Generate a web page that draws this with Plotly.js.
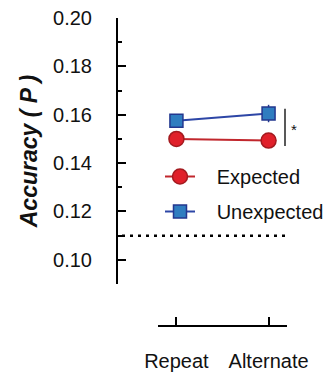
<!DOCTYPE html>
<html><head><meta charset="utf-8">
<script src="https://cdn.plot.ly/plotly-3.0.1.min.js"></script>
<style>html,body{margin:0;padding:0;background:#fff}#chart{width:325px;height:372px}</style>
</head><body><div id="chart"></div>
<script>
var conditions = ['Repeat', 'Alternate'];
var expected = [0.1500, 0.1493];
var expectedErr = [0.0020, 0.0020];
var unexpected = [0.1575, 0.1605];
var unexpectedErr = [0.0022, 0.0036];
var chanceLevel = 0.11;
var sigRange = [0.1471, 0.1625];
var sigLabel = '*';
var yTicks = [0.10, 0.12, 0.14, 0.16, 0.18, 0.20];

var W = 325, H = 372;
function px(x){return x / W;}
function py(y){return 1 - y / H;}
var FONT = 'Liberation Sans, Arial, sans-serif';

var traces = [
  {x: conditions, y: expected, name: '\u00a0\u00a0\u00a0Expected', type: 'scatter', mode: 'lines+markers',
   legendgroup: 'e',
   error_y: {type: 'data', array: expectedErr, visible: true, color: '#a31a1f', thickness: 1.5, width: 0},
   line: {color: '#c1272d', width: 2},
   marker: {symbol: 'circle', size: 15, color: '#e0202a', line: {color: '#a31a1f', width: 1.5}}},
  {x: conditions, y: unexpected, name: '\u00a0\u00a0\u00a0Unexpected', type: 'scatter', mode: 'lines+markers',
   legendgroup: 'u',
   error_y: {type: 'data', array: unexpectedErr, visible: true, color: '#23378f', thickness: 1.5, width: 0},
   line: {color: '#2d46a6', width: 2},
   marker: {symbol: 'square', size: 13, color: '#2f7dc0', line: {color: '#23378f', width: 1.5}}}
];

var layout = {
  width: W, height: H,
  margin: {l: 0, r: 0, t: 0, b: 0, autoexpand: false},
  paper_bgcolor: '#fff', plot_bgcolor: 'rgba(0,0,0,0)',
  font: {family: FONT, size: 20, color: '#111'},
  showlegend: true,
  legend: {x: px(160), y: py(157), xanchor: 'left', yanchor: 'top', bgcolor: 'rgba(0,0,0,0)',
           font: {family: FONT, size: 20, color: '#111'}, tracegroupgap: 6, traceorder: 'grouped'},
  xaxis: {type: 'category', categoryorder: 'array', categoryarray: conditions,
          range: [-0.2, 1.2], domain: [px(158), px(287)], anchor: 'free', position: py(326),
          showline: true, linewidth: 2, linecolor: '#000', ticks: 'inside', ticklen: 8, tickwidth: 2,
          tickcolor: '#000', showgrid: false, zeroline: false, ticklabelstandoff: 17,
          tickfont: {family: FONT, size: 20, color: '#111'}},
  yaxis: {range: [0.09, 0.20], domain: [py(284), py(18)], anchor: 'free', position: px(117),
          showline: true, linewidth: 2, linecolor: '#000', ticks: 'inside', ticklen: 8, tickwidth: 2,
          tickcolor: '#000', tickmode: 'array', tickvals: yTicks, tickformat: '.2f',
          minor: {dtick: 0.01, tick0: 0.09, ticks: 'inside', ticklen: 4, tickwidth: 2, tickcolor: '#000', showgrid: false},
          showgrid: false, zeroline: false, ticklabelstandoff: 20,
          tickfont: {family: FONT, size: 20, color: '#111'},
          title: {text: 'Accuracy ( P )', standoff: 8,
                  font: {family: FONT, size: 23, color: '#111', weight: 'bold', style: 'italic'}}},
  shapes: [
    {type: 'line', xref: 'paper', yref: 'y', x0: px(122), x1: px(285), y0: chanceLevel, y1: chanceLevel,
     line: {color: '#000', width: 2.5, dash: '3px,5px'}},
    {type: 'line', xref: 'paper', yref: 'y', x0: px(285), x1: px(285), y0: sigRange[0], y1: sigRange[1],
     line: {color: '#222', width: 1.5}}
  ],
  annotations: [
    {xref: 'paper', yref: 'y', x: px(299), y: (sigRange[0] + sigRange[1]) / 2, text: sigLabel,
     showarrow: false, font: {family: FONT, size: 15, color: '#111'}, yshift: -2}
  ]
};

Plotly.newPlot('chart', traces, layout, {displayModeBar: false, staticPlot: true});
</script>
</body></html>
